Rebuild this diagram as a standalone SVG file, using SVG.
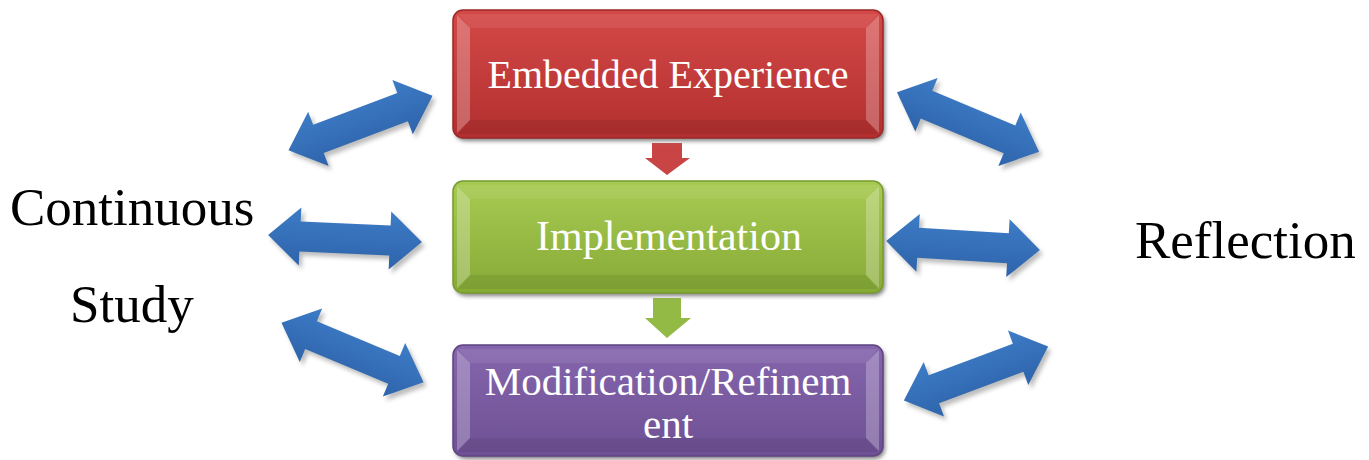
<svg xmlns="http://www.w3.org/2000/svg" width="1369" height="460" viewBox="0 0 1369 460">
<defs>
<style>
.lbl{font-family:"Liberation Serif","Times New Roman",serif;fill:#000;font-size:53px;}
.btxt{font-family:"Liberation Serif","Times New Roman",serif;fill:#fff;text-anchor:middle;}
.bev{fill:#fff;opacity:0.25;}
.bevd{fill:#000;opacity:0.07;}
</style>
<linearGradient id="gRed" x1="0" y1="0" x2="0" y2="1">
<stop offset="0" stop-color="#d44947"/><stop offset="1" stop-color="#b22f2f"/>
</linearGradient>
<linearGradient id="gGreen" x1="0" y1="0" x2="0" y2="1">
<stop offset="0" stop-color="#a7cb52"/><stop offset="1" stop-color="#86aa36"/>
</linearGradient>
<linearGradient id="gPurple" x1="0" y1="0" x2="0" y2="1">
<stop offset="0" stop-color="#8566ad"/><stop offset="1" stop-color="#6e5094"/>
</linearGradient>
<linearGradient id="gBlue" x1="0" y1="0" x2="0" y2="1">
<stop offset="0" stop-color="#3d7cc6"/><stop offset="1" stop-color="#2e64ab"/>
</linearGradient>
<filter id="sh" x="-10%" y="-10%" width="120%" height="130%">
<feGaussianBlur stdDeviation="2"/>
</filter>
<path id="dbl" d="M -77,0 L -45,-29 L -45,-15 L 45,-15 L 45,-29 L 77,0 L 45,29 L 45,15 L -45,15 L -45,29 Z"/>
</defs>
<rect width="1369" height="460" fill="#fff"/>

<g id="connectors">
<g id="a-down1">
<path d="M 652,143 L 682,143 L 682,158 L 690,158 L 667,175 L 645,158 L 652,158 Z" fill="#c94545"/>
</g>
<g id="a-down2">
<path d="M 653,298 L 681,298 L 681,318 L 691,318 L 667,338 L 645,318 L 653,318 Z" fill="#93ba44"/>
</g>
<g id="a1">
<use href="#dbl" transform="translate(363.5,127) rotate(-20.7)" fill="#bdbdbd" filter="url(#sh)"/>
<use href="#dbl" transform="translate(360.5,123) rotate(-20.7)" fill="url(#gBlue)"/>
</g>
<g id="a2">
<use href="#dbl" transform="translate(971,126) rotate(22.7)" fill="#bdbdbd" filter="url(#sh)"/>
<use href="#dbl" transform="translate(968,122) rotate(22.7)" fill="url(#gBlue)"/>
</g>
<g id="a3">
<use href="#dbl" transform="translate(348,242.5) rotate(2.6)" fill="#bdbdbd" filter="url(#sh)"/>
<use href="#dbl" transform="translate(345,238.5) rotate(2.6)" fill="url(#gBlue)"/>
</g>
<g id="a4">
<use href="#dbl" transform="translate(966,249.5) rotate(3.4)" fill="#bdbdbd" filter="url(#sh)"/>
<use href="#dbl" transform="translate(963,245.5) rotate(3.4)" fill="url(#gBlue)"/>
</g>
<g id="a5">
<use href="#dbl" transform="translate(355.5,356.5) rotate(22.7)" fill="#bdbdbd" filter="url(#sh)"/>
<use href="#dbl" transform="translate(352.5,352.5) rotate(22.7)" fill="url(#gBlue)"/>
</g>
<g id="a6">
<use href="#dbl" transform="translate(979,377.5) rotate(-20.5)" fill="#bdbdbd" filter="url(#sh)"/>
<use href="#dbl" transform="translate(976,373.5) rotate(-20.5)" fill="url(#gBlue)"/>
</g>
</g>

<g id="n-embedded">
<rect x="455" y="13" width="430" height="128" rx="10" fill="#808080" filter="url(#sh)"/>
<rect x="453" y="10" width="430" height="128" rx="10" fill="url(#gRed)" stroke="#9a2a2a" stroke-width="1.5"/>
<path class="bev" d="M 457,15 L 470,28 L 470,120 L 457,133 Z"/>
<path class="bev" d="M 879,15 L 866,28 L 866,120 L 879,133 Z"/>
<path class="bev" style="opacity:0.08" d="M 458,14 L 878,14 L 866,28 L 470,28 Z"/>
<path class="bevd" d="M 458,134 L 878,134 L 866,120 L 470,120 Z"/>
<text class="btxt" x="668" y="88" font-size="40">Embedded Experience</text>
</g>

<g id="n-implementation">
<rect x="455" y="184" width="430" height="112" rx="10" fill="#808080" filter="url(#sh)"/>
<rect x="453" y="181" width="430" height="112" rx="10" fill="url(#gGreen)" stroke="#789c2e" stroke-width="1.5"/>
<path class="bev" d="M 457,186 L 470,199 L 470,275 L 457,288 Z"/>
<path class="bev" d="M 879,186 L 866,199 L 866,275 L 879,288 Z"/>
<path class="bev" style="opacity:0.08" d="M 458,185 L 878,185 L 866,199 L 470,199 Z"/>
<path class="bevd" d="M 458,289 L 878,289 L 866,275 L 470,275 Z"/>
<text class="btxt" x="669" y="250" font-size="42">Implementation</text>
</g>

<g id="n-modification">
<rect x="455" y="348" width="430" height="111" rx="10" fill="#808080" filter="url(#sh)"/>
<rect x="453" y="345" width="430" height="111" rx="10" fill="url(#gPurple)" stroke="#5e4482" stroke-width="1.5"/>
<path class="bev" d="M 457,350 L 470,363 L 470,438 L 457,451 Z"/>
<path class="bev" d="M 879,350 L 866,363 L 866,438 L 879,451 Z"/>
<path class="bev" style="opacity:0.08" d="M 458,349 L 878,349 L 866,363 L 470,363 Z"/>
<path class="bevd" d="M 458,452 L 878,452 L 866,438 L 470,438 Z"/>
<text class="btxt" font-size="41"><tspan x="668" y="395">Modification/Refinem</tspan><tspan x="668" y="438">ent</tspan></text>
</g>

<g id="n-continuous">
<text class="lbl" x="10" y="225">Continuous</text>
<text class="lbl" x="70" y="322">Study</text>
</g>
<g id="n-reflection">
<text class="lbl" x="1135" y="258">Reflection</text>
</g>
</svg>
